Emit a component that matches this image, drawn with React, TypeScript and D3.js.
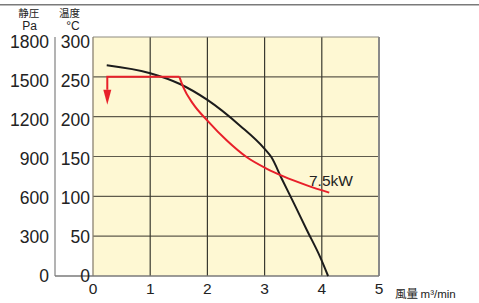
import React from "react";
import * as d3 from "d3";

// flow m3/min (x) vs temperature/pressure (y in ℃, Pa = ℃ * 6)
const xTicks = [0, 1, 2, 3, 4, 5];
const tempTicks = [0, 50, 100, 150, 200, 250, 300];
const paTicks = [0, 300, 600, 900, 1200, 1500, 1800];

// black curve: static pressure
const pqFlow = [0.24, 1.0, 1.52, 2.0, 2.57, 3.0, 3.12, 3.3, 3.53, 3.74, 3.97, 4.11];
const pqTemp = [264.6, 254.6, 241, 221, 188.7, 159.6, 149, 122, 88.7, 57.5, 24, 0];

// red curve: 7.5kW limit
const kwFlow = [1.51, 1.58, 1.75, 2.0, 2.34, 2.69, 3.04, 3.33, 3.74, 4.13];
const kwTemp = [250, 236.7, 216, 195, 170, 149, 134.6, 125, 113.8, 104.6];
const kwFlatFrom = 0.25;

const W = 479;
const H = 303;
const numFont = "'Liberation Sans', Arial, Helvetica, sans-serif";
const jpFont = "'Noto Sans CJK JP', 'Noto Sans', sans-serif";

export default function App() {
  const x = d3.scaleLinear().domain([0, 5]).range([93, 379]);
  const y = d3.scaleLinear().domain([0, 300]).range([276, 37]);
  // tick label centers sit a little lower near the top
  const yLab = d3.scaleLinear().domain([0, 300]).range([276, 42]);

  const line = d3
    .line<[number, number]>()
    .x((d) => x(d[0]))
    .y((d) => y(d[1]))
    .curve(d3.curveMonotoneX);

  const pq: [number, number][] = pqFlow.map((f, i) => [f, pqTemp[i]]);
  const kw: [number, number][] = kwFlow.map((f, i) => [f, kwTemp[i]]);

  const ax = x(kwFlatFrom);
  const ay = y(250);
  const flatPath = `M${ax},${ay + 13}V${ay}H${x(kwFlow[0])}`;

  return (
    <div style={{ position: "absolute", left: 0, top: 0 }}>
      <svg width={W} height={H} style={{ display: "block", background: "#fff" }}>
        <line x1={0} x2={W} y1={4.7} y2={4.7} stroke="#7a7a7a" strokeWidth={1.6} />

        {/* plot background */}
        <rect x={x(0)} y={y(300)} width={x(5) - x(0)} height={y(0) - y(300)} fill="#fef8d3" />

        {/* horizontal grid */}
        {tempTicks.slice(1, -1).map((t) => (
          <line key={"h" + t} x1={x(0)} x2={x(5)} y1={y(t)} y2={y(t)} stroke="#5f5b4c" strokeWidth={1.2} />
        ))}
        {/* vertical grid */}
        {xTicks.slice(1, -1).map((t) => (
          <line key={"v" + t} x1={x(t)} x2={x(t)} y1={y(300)} y2={y(0)} stroke="#3a3a30" strokeWidth={1.2} />
        ))}

        {/* borders */}
        <line x1={x(0)} x2={x(5)} y1={y(300)} y2={y(300)} stroke="#8d8a80" strokeWidth={1} />
        <line x1={x(5)} x2={x(5)} y1={y(300)} y2={y(0)} stroke="#8a8a8a" strokeWidth={2} />
        <line x1={x(0)} x2={x(0)} y1={y(300)} y2={y(0)} stroke="#8a8270" strokeWidth={1.3} />
        <line x1={55} x2={55} y1={y(300)} y2={y(0)} stroke="#8a8a8a" strokeWidth={1.3} />
        <line x1={55} x2={x(5)} y1={y(0)} y2={y(0)} stroke="#7a7a7a" strokeWidth={1.5} />

        {/* curves */}
        <path d={line(pq) ?? ""} fill="none" stroke="#1c1c1c" strokeWidth={2} />
        <path d={line(kw) ?? ""} fill="none" stroke="#e8202a" strokeWidth={2} />
        <path d={flatPath} fill="none" stroke="#e8202a" strokeWidth={2} />
        <path d={`M${ax - 4},${ay + 13}L${ax + 4},${ay + 13}L${ax},${ay + 28}Z`} fill="#e8202a" />

        <text x={309} y={186} fontFamily={numFont} fontSize={15.5} fill="#222">
          7.5kW
        </text>

        {/* y labels */}
        {paTicks.map((p) => (
          <text key={"p" + p} x={49} y={yLab(p / 6)} dy="0.36em" textAnchor="end" fontFamily={numFont} fontSize={17.5} fill="#222">
            {p}
          </text>
        ))}
        {tempTicks.map((t) => (
          <text key={"t" + t} x={90} y={yLab(t)} dy="0.36em" textAnchor="end" fontFamily={numFont} fontSize={17.5} fill="#222">
            {t}
          </text>
        ))}
        {/* x labels */}
        {xTicks.map((t) => (
          <text key={"x" + t} x={x(t)} y={293.5} textAnchor="middle" fontFamily={numFont} fontSize={15.5} fill="#222">
            {t}
          </text>
        ))}

        {/* headers */}
        <text x={28.7} y={17} textAnchor="middle" fontFamily={jpFont} fontSize={10.5} fill="#222">静圧</text>
        <text x={29.5} y={29.5} textAnchor="middle" fontFamily={numFont} fontSize={12} fill="#222">Pa</text>
        <text x={69.5} y={17} textAnchor="middle" fontFamily={jpFont} fontSize={10.5} fill="#222">温度</text>
        <text x={73} y={29.5} textAnchor="middle" fontFamily={numFont} fontSize={12} fill="#222">°C</text>

        <text x={395} y={297.5} fontFamily={jpFont} fontSize={11.5} fill="#222">
          風量 <tspan fontFamily={numFont}>m³/min</tspan>
        </text>
      </svg>
    </div>
  );
}
